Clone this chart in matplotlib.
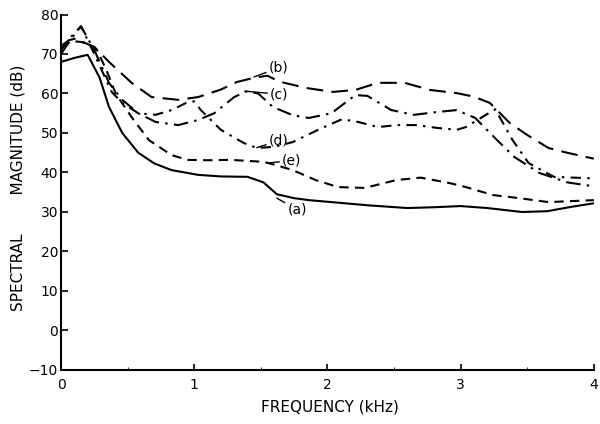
import matplotlib
matplotlib.use("Agg")
import matplotlib.pyplot as plt

# curve (a) solid
a_x = [0, 0.1, 0.2, 0.29, 0.36, 0.46, 0.58, 0.7, 0.83, 1.03, 1.2, 1.4, 1.52, 1.62,
       1.75, 1.86, 2.1, 2.3, 2.6, 2.8, 3.0, 3.2, 3.46, 3.65, 3.83, 4.0]
a_y = [68, 69, 69.8, 64, 56.6, 50, 45, 42.3, 40.6, 39.4, 39, 38.9, 37.5, 34.5,
       33.5, 33, 32.3, 31.7, 31, 31.2, 31.5, 31, 30, 30.2, 31.3, 32.2]

# curve (b) long dash
b_x = [0, 0.06, 0.12, 0.18, 0.25, 0.36, 0.53, 0.68, 0.88, 1.03, 1.2, 1.32, 1.45,
       1.55, 1.64, 1.84, 2.04, 2.21, 2.38, 2.58, 2.77, 2.97, 3.1, 3.22, 3.37, 3.5,
       3.66, 3.8, 4.0]
b_y = [72, 73.5, 74, 72.8, 71.8, 68, 62.7, 59.1, 58.4, 59.1, 61, 62.9, 64,
       64.5, 63, 61.4, 60.4, 60.9, 62.7, 62.7, 60.9, 60.1, 59.2, 57.6, 52.5, 49.5,
       46.2, 45, 43.5]

# curve (c) dash-dot
c_x = [0, 0.08, 0.15, 0.25, 0.36, 0.46, 0.58, 0.71, 0.88, 1.03, 1.15, 1.3, 1.39,
       1.48, 1.59, 1.74, 1.86, 2.03, 2.21, 2.3, 2.48, 2.65, 2.82, 2.97, 3.11, 3.25,
       3.4, 3.59, 3.8, 4.0]
c_y = [70, 74, 77, 71, 62.7, 58.4, 55, 52.8, 52, 53.3, 55, 59.1, 60.5,
       60, 56.6, 54.5, 53.8, 55, 59.6, 59.4, 55.8, 54.6, 55.3, 55.8, 53.8, 49,
       44, 39.9, 37.5, 36.5]

# curve (d) dash-dot
d_x = [0, 0.08, 0.15, 0.25, 0.38, 0.46, 0.58, 0.71, 0.83, 0.95, 1.0, 1.05, 1.2,
       1.37, 1.47, 1.6, 1.74, 1.93, 2.11, 2.23, 2.38, 2.52, 2.67, 2.82, 2.97, 3.04,
       3.19, 3.26, 3.39, 3.51, 3.7, 4.0]
d_y = [71, 74.5, 77, 70, 60.4, 57.6, 55, 54.6, 55.8, 57.8, 58, 55.8, 50.8,
       47.5, 46.2, 46.5, 47.7, 50.8, 53.5, 52.8, 51.5, 52, 52, 51.3, 50.8, 51.5,
       54.6, 56, 48.2, 42.4, 38.9, 38.5]

# curve (e) short dash
e_x = [0, 0.08, 0.16, 0.27, 0.34, 0.41, 0.53, 0.66, 0.83, 0.95, 1.1, 1.27, 1.52,
       1.6, 1.74, 1.91, 2.08, 2.28, 2.52, 2.7, 2.92, 3.04, 3.24, 3.44, 3.66, 4.0]
e_y = [72, 73.3, 73, 71, 66, 60, 54, 48.2, 44.4, 43.2, 43.1, 43.2, 42.7,
       42, 40.6, 38.1, 36.3, 36.1, 38.1, 38.7, 37.3, 36.3, 34.3, 33.5, 32.5, 33]

x_ticks = [0, 1, 2, 3, 4]
y_ticks = [-10, 0, 10, 20, 30, 40, 50, 60, 70, 80]

plt.rcParams["font.family"] = "DejaVu Sans"

fig = plt.figure(figsize=(6, 4.24), dpi=100)
ax = fig.add_axes([0.1017, 0.1274, 0.888, 0.8384])

lw = 1.5
ax.plot(a_x, a_y, color="black", lw=lw)
ax.plot(b_x, b_y, color="black", lw=lw, dashes=(8, 4))
ax.plot(c_x, c_y, color="black", lw=lw, dashes=(7, 3, 1.2, 3))
ax.plot(d_x, d_y, color="black", lw=lw, dashes=(5, 3, 1.2, 3))
ax.plot(e_x, e_y, color="black", lw=lw, dashes=(4.5, 3))

# curve labels with little leaders
labels = [("(b)", 1.45, 64.2, 1.56, 66.5),
          ("(c)", 1.38, 60.6, 1.57, 59.8),
          ("(d)", 1.47, 46.3, 1.56, 48.0),
          ("(e)", 1.55, 42.4, 1.66, 43.0),
          ("(a)", 1.62, 33.5, 1.70, 30.6)]
for txt, x0, y0, x1, y1 in labels:
    ax.annotate(txt, xy=(x0, y0), xytext=(x1, y1), fontsize=10,
                va="center", ha="left",
                arrowprops=dict(arrowstyle="-", color="black", lw=1.0,
                                shrinkA=0, shrinkB=0))

ax.set_xlim(0, 4)
ax.set_ylim(-10, 80)
ax.set_xticks(x_ticks)
ax.set_yticks(y_ticks)
ax.set_xticks([0.5, 1.5, 2.5, 3.5], minor=True)
ax.tick_params(axis="both", direction="in", labelsize=10, width=1.2)
ax.tick_params(axis="y", length=5, pad=2)
ax.tick_params(axis="x", length=4, pad=6)
ax.tick_params(axis="x", which="minor", length=2.5, direction="in")
for s in ["top", "right"]:
    ax.spines[s].set_visible(False)
for s in ["left", "bottom"]:
    ax.spines[s].set_linewidth(1.5)

fig.text(0.03, 0.558, "SPECTRAL        MAGNITUDE (dB)", rotation=90,
         ha="center", va="center", fontsize=11)
fig.text(0.55, 0.04, "FREQUENCY (kHz)", ha="center", va="center", fontsize=11)

fig.savefig("out.png", dpi=100)
